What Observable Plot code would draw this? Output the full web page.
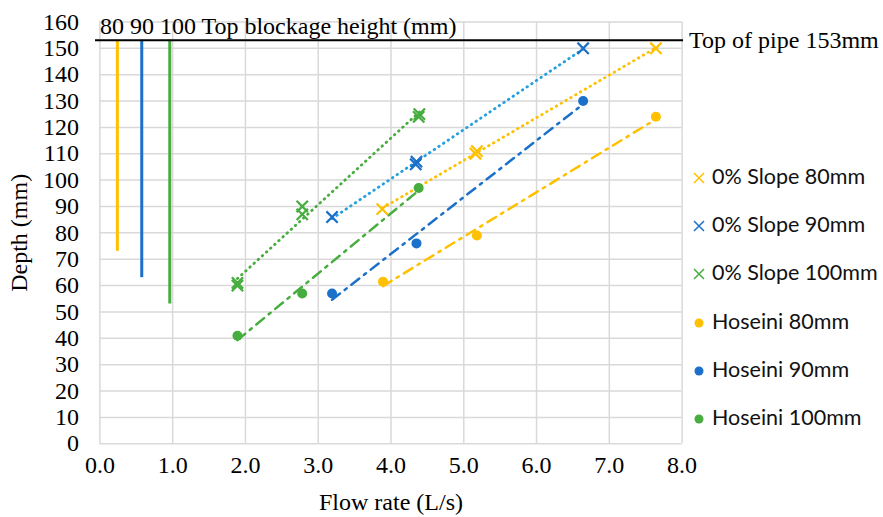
<!DOCTYPE html>
<html>
<head>
<meta charset="utf-8">
<script src="https://cdn.jsdelivr.net/npm/d3@7"></script>
<script src="https://cdn.jsdelivr.net/npm/@observablehq/plot@0.6"></script>
<style>
  html, body { margin: 0; padding: 0; background: #fff; }
  #wrap { position: relative; width: 883px; height: 517px; }
  #legend { position: absolute; left: 692px; top: 163px; font-family: "Lato", "Open Sans", sans-serif; font-size: 21.5px; color: #111; }
  #legend .row { height: 48.2px; display: flex; align-items: flex-start; }
  #legend svg { margin-right: 6px; margin-top: 8px; }
</style>
</head>
<body>
<div id="wrap"><div id="legend"></div></div>
<script>
// ---- data ----
const slope80X = [3.88, 5.16, 5.18, 7.64];
const slope80Y = [89, 110, 111, 150];
const slope90X = [3.19, 4.34, 4.35, 6.64];
const slope90Y = [86, 106, 107, 150];
const slope100X = [1.89, 1.89, 2.78, 2.78, 4.38, 4.39];
const slope100Y = [60, 61, 87, 90, 124, 125];
const hos80X = [3.89, 5.18, 7.64];
const hos80Y = [61.5, 79, 124];
const hos90X = [3.19, 4.35, 6.64];
const hos90Y = [57, 76, 130];
const hos100X = [1.89, 2.78, 4.38];
const hos100Y = [41, 57, 97];
const blockX = [0.24, 0.575, 0.96];
const blockHeight = [80, 90, 100];
const pipeTop = 153;
const xTicks = [0, 1, 2, 3, 4, 5, 6, 7, 8];
const yTicks = [0, 10, 20, 30, 40, 50, 60, 70, 80, 90, 100, 110, 120, 130, 140, 150, 160];
const seriesNames = ["0% Slope 80mm", "0% Slope 90mm", "0% Slope 100mm", "Hoseini 80mm", "Hoseini 90mm", "Hoseini 100mm"];

const YEL = "#FFC000", BLU = "#1B70C9", GRN = "#46AD3E", LBLU = "#24A0DF";

const pts = (xs, ys) => xs.map((x, i) => ({x, y: ys[i]}));
const s80 = pts(slope80X, slope80Y), s90 = pts(slope90X, slope90Y), s100 = pts(slope100X, slope100Y);
const h80 = pts(hos80X, hos80Y), h90 = pts(hos90X, hos90Y), h100 = pts(hos100X, hos100Y);
const blocks = blockX.map((x, i) => ({x, y1: pipeTop - blockHeight[i], y2: pipeTop, c: [YEL, BLU, GRN][i]}));

const regDot = (d, c) => Plot.linearRegressionY(d, {x: "x", y: "y", stroke: c, ci: 0, strokeWidth: 2.8, strokeDasharray: "0.6,5", strokeLinecap: "round"});
const regDash = (d, c) => Plot.linearRegressionY(d, {x: "x", y: "y", stroke: c, ci: 0, strokeWidth: 2.5, strokeDasharray: "10,6,2.5,6"});
const xs = (d, c) => Plot.dot(d, {x: "x", y: "y", symbol: "times", r: 5.2, stroke: c, strokeWidth: 2.2});
const cs = (d, c) => Plot.dot(d, {x: "x", y: "y", r: 5, fill: c});

const FS = 24;
const chart = Plot.plot({
  width: 883, height: 517,
  marginLeft: 99.4, marginRight: 201.4, marginTop: 21.4, marginBottom: 73.7,
  style: {fontFamily: "Liberation Serif", fontSize: FS + "px", color: "#000", background: "#fff", overflow: "visible"},
  x: {domain: [0, 8]},
  y: {domain: [0, 160]},
  marks: [
    Plot.gridX(xTicks, {stroke: "#d9d9d9", strokeOpacity: 1, strokeWidth: 1.5}),
    Plot.gridY(yTicks, {stroke: "#d9d9d9", strokeOpacity: 1, strokeWidth: 1.5}),
    Plot.axisX(xTicks, {tickSize: 0, tickPadding: 12, tickFormat: d3.format(".1f"), label: "Flow rate (L/s)", labelAnchor: "center", labelOffset: 66, labelArrow: "none", fontSize: FS}),
    Plot.axisY(yTicks, {tickSize: 0, tickPadding: 21, label: "Depth (mm)", labelAnchor: "center", labelOffset: 90, labelArrow: "none", fontSize: FS}),
    Plot.ruleX(blocks, {x: "x", y1: "y1", y2: "y2", stroke: "c", strokeWidth: 3}),
    Plot.ruleY([pipeTop], {x1: -0.06, x2: 8.02, stroke: "#000", strokeWidth: 2}),
    Plot.text(["80 90 100 Top blockage height (mm)"], {x: 0, y: pipeTop, dy: -14, dx: 0, textAnchor: "start", fontSize: FS}),
    Plot.text(["Top of pipe 153mm"], {x: 8, y: pipeTop, dx: 7, textAnchor: "start", fontSize: FS}),
    regDot(s80, YEL), regDot(s90, LBLU), regDot(s100, GRN),
    regDash(h80, YEL), regDash(h90, BLU), regDash(h100, GRN),
    cs(h80, YEL), cs(h90, BLU), cs(h100, GRN),
    xs(s80, YEL), xs(s90, BLU), xs(s100, GRN)
  ]
});
document.getElementById("wrap").prepend(chart);

const legendColors = [YEL, BLU, GRN, YEL, BLU, GRN];
const legend = d3.select("#legend");
seriesNames.forEach((name, i) => {
  const row = legend.append("div").attr("class", "row");
  const svg = row.append("svg").attr("width", 14).attr("height", 14);
  if (i < 3) {
    svg.append("path").attr("d", "M2,2L12,12M12,2L2,12").attr("stroke", legendColors[i]).attr("stroke-width", 1.5);
  } else {
    svg.append("circle").attr("cx", 7).attr("cy", 7).attr("r", 4.5).attr("fill", legendColors[i]);
  }
  row.append("span").text(name);
});
</script>
</body>
</html>
